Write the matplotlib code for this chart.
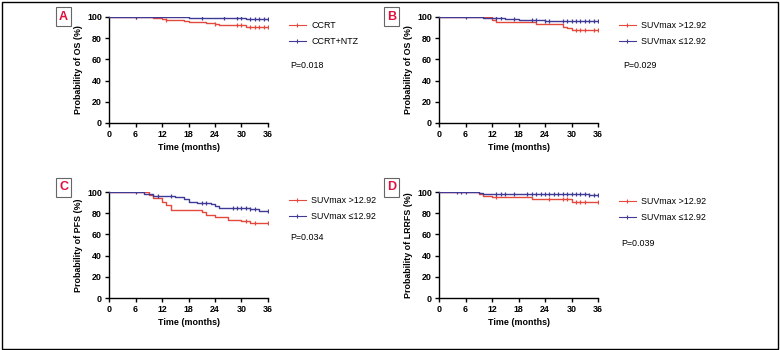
import numpy as np
import matplotlib.pyplot as plt
from matplotlib.lines import Line2D
from matplotlib.patches import Rectangle

plt.rcParams['font.family'] = ['Liberation Sans', 'DejaVu Sans']

RED = '#e5483c'
BLUE = '#3f3a96'

# ---- data (time in months, survival in %) ----
# A: OS by treatment
a_red_t = [0, 10, 12, 13, 17, 18, 22, 24, 25, 31]
a_red_s = [100, 99, 98, 97, 96, 95, 94, 93, 92, 91]
a_red_c = [6, 13, 24, 29, 30, 32, 33, 34, 35, 36]
a_blue_t = [0, 18, 31]
a_blue_s = [100, 99, 98]
a_blue_c = [6, 21, 26, 29, 30, 32, 33, 34, 35, 36]

# B: OS by SUVmax
b_red_t = [0, 12, 13, 22, 28, 29, 30]
b_red_s = [100, 97, 95, 93, 91, 90, 88]
b_red_c = [31, 32, 33, 35, 36]
b_blue_t = [0, 10, 15, 18, 24]
b_blue_s = [100, 99, 98, 97, 96]
b_blue_c = [6, 13, 14, 17, 21, 22, 24, 25, 28, 29, 30, 31, 32, 33, 34, 35, 36]

# C: PFS by SUVmax
c_red_t = [0, 9, 10, 12, 13, 14, 21, 22, 24, 27, 30, 32]
c_red_s = [100, 97, 94, 91, 88, 83, 81, 78, 76, 74, 73, 71]
c_red_c = [31, 33, 36]
c_blue_t = [0, 8, 10, 15, 17, 18, 20, 23, 24, 25, 32, 34]
c_blue_s = [100, 98, 96, 95, 93, 91, 90, 89, 87, 85, 84, 82]
c_blue_c = [6, 11, 14, 21, 22, 28, 29, 30, 31, 32, 33, 36]

# D: LRRFS by SUVmax
d_red_t = [0, 9, 10, 12, 21, 30]
d_red_s = [100, 98, 96, 95, 93, 91]
d_red_c = [13, 25, 28, 29, 31, 32, 33, 36]
d_blue_t = [0, 9, 10, 24, 34]
d_blue_s = [100, 99, 98, 98, 97]
d_blue_c = [4, 5, 6, 13, 14, 15, 17, 20, 21, 22, 23, 24, 25, 26, 27, 28, 29, 30, 31, 32, 33, 34, 35, 36]

xticks = [0, 6, 12, 18, 24, 30, 36]
yticks = [0, 20, 40, 60, 80, 100]

panels = [
    dict(tag='A', ylabel='Probability of OS (%)', p='P=0.018',
         labels=['CCRT', 'CCRT+NTZ'],
         red=(a_red_t, a_red_s, a_red_c), blue=(a_blue_t, a_blue_s, a_blue_c),
         rect=[109, 17], leg=(287, 19), ptxt=(290, 65), box=(55, 8)),
    dict(tag='B', ylabel='Probability of OS (%)', p='P=0.029',
         labels=['SUVmax >12.92', 'SUVmax \u226412.92'],
         red=(b_red_t, b_red_s, b_red_c), blue=(b_blue_t, b_blue_s, b_blue_c),
         rect=[439, 17], leg=(617, 19), ptxt=(623, 66), box=(383, 8)),
    dict(tag='C', ylabel='Probability of PFS (%)', p='P=0.034',
         labels=['SUVmax >12.92', 'SUVmax \u226412.92'],
         red=(c_red_t, c_red_s, c_red_c), blue=(c_blue_t, c_blue_s, c_blue_c),
         rect=[109, 192], leg=(287, 194), ptxt=(290, 238), box=(55, 179)),
    dict(tag='D', ylabel='Probability of LRRFS (%)', p='P=0.039',
         labels=['SUVmax >12.92', 'SUVmax \u226412.92'],
         red=(d_red_t, d_red_s, d_red_c), blue=(d_blue_t, d_blue_s, d_blue_c),
         rect=[439, 192], leg=(617, 195), ptxt=(621, 243), box=(383, 179)),
]

W, H = 780, 350
fig = plt.figure(figsize=(W / 100, H / 100), dpi=100)

# outer frame
fig.patches.append(Rectangle((1.5 / W, 1.5 / H), 1 - 3.5 / W, 1 - 3.5 / H,
                             transform=fig.transFigure, fill=False,
                             edgecolor='black', linewidth=1.0))


def km(ax, t, s, c, color):
    t = list(t) + [36]
    s = list(s) + [s[-1]]
    ax.step(t, s, where='post', color=color, lw=1.0, zorder=3)
    idx = np.searchsorted(np.array(t), np.array(c), side='right') - 1
    cy = np.array(s)[idx]
    ax.plot(c, cy, ls='none', marker='|', ms=3.2, mew=0.9, color=color, zorder=4)


for p in panels:
    x0, y0 = p['rect']
    ax = fig.add_axes([x0 / W, 1 - 123 / H - (y0 - 17) / H, 159 / W, 106 / H])
    km(ax, *p['red'], RED)
    km(ax, *p['blue'], BLUE)
    ax.set_xlim(0, 36)
    ax.set_ylim(0, 100)
    ax.set_xticks(xticks)
    ax.set_yticks(yticks)
    for sp in ['top', 'right']:
        ax.spines[sp].set_visible(False)
    for sp in ['left', 'bottom']:
        ax.spines[sp].set_linewidth(1.0)
    ax.tick_params(length=3, width=1.0, labelsize=6.4, pad=2)
    for lab in ax.get_xticklabels() + ax.get_yticklabels():
        lab.set_fontweight('bold')
    ax.set_xlabel('Time (months)', fontsize=6.4, fontweight='bold', labelpad=3)
    ax.set_ylabel(p['ylabel'], fontsize=6.4, fontweight='bold', labelpad=3)

    handles = [Line2D([], [], color=RED, lw=0.8, marker='|', ms=3, mew=0.8),
               Line2D([], [], color=BLUE, lw=0.8, marker='|', ms=3, mew=0.8)]
    lx, ly = p['leg']
    fig.legend(handles, p['labels'], loc='upper left',
               bbox_to_anchor=(lx / W, 1 - ly / H), bbox_transform=fig.transFigure,
               frameon=False, fontsize=6.4, handlelength=1.9, handletextpad=0.6,
               labelspacing=0.8, numpoints=1, borderaxespad=0, borderpad=0.2)
    px, py = p['ptxt']
    fig.text(px / W, 1 - py / H, p['p'], fontsize=6.4, va='center', ha='left')

    bx, by = p['box']
    fig.text((bx + 8.5) / W, 1 - (by + 8.5) / H, p['tag'], fontsize=9,
             fontweight='bold', color='#e0103c', ha='center', va='center',
             bbox=dict(boxstyle='square,pad=0.25', fc='white', ec='#666666', lw=0.8))

fig.savefig('out.png', dpi=100)
